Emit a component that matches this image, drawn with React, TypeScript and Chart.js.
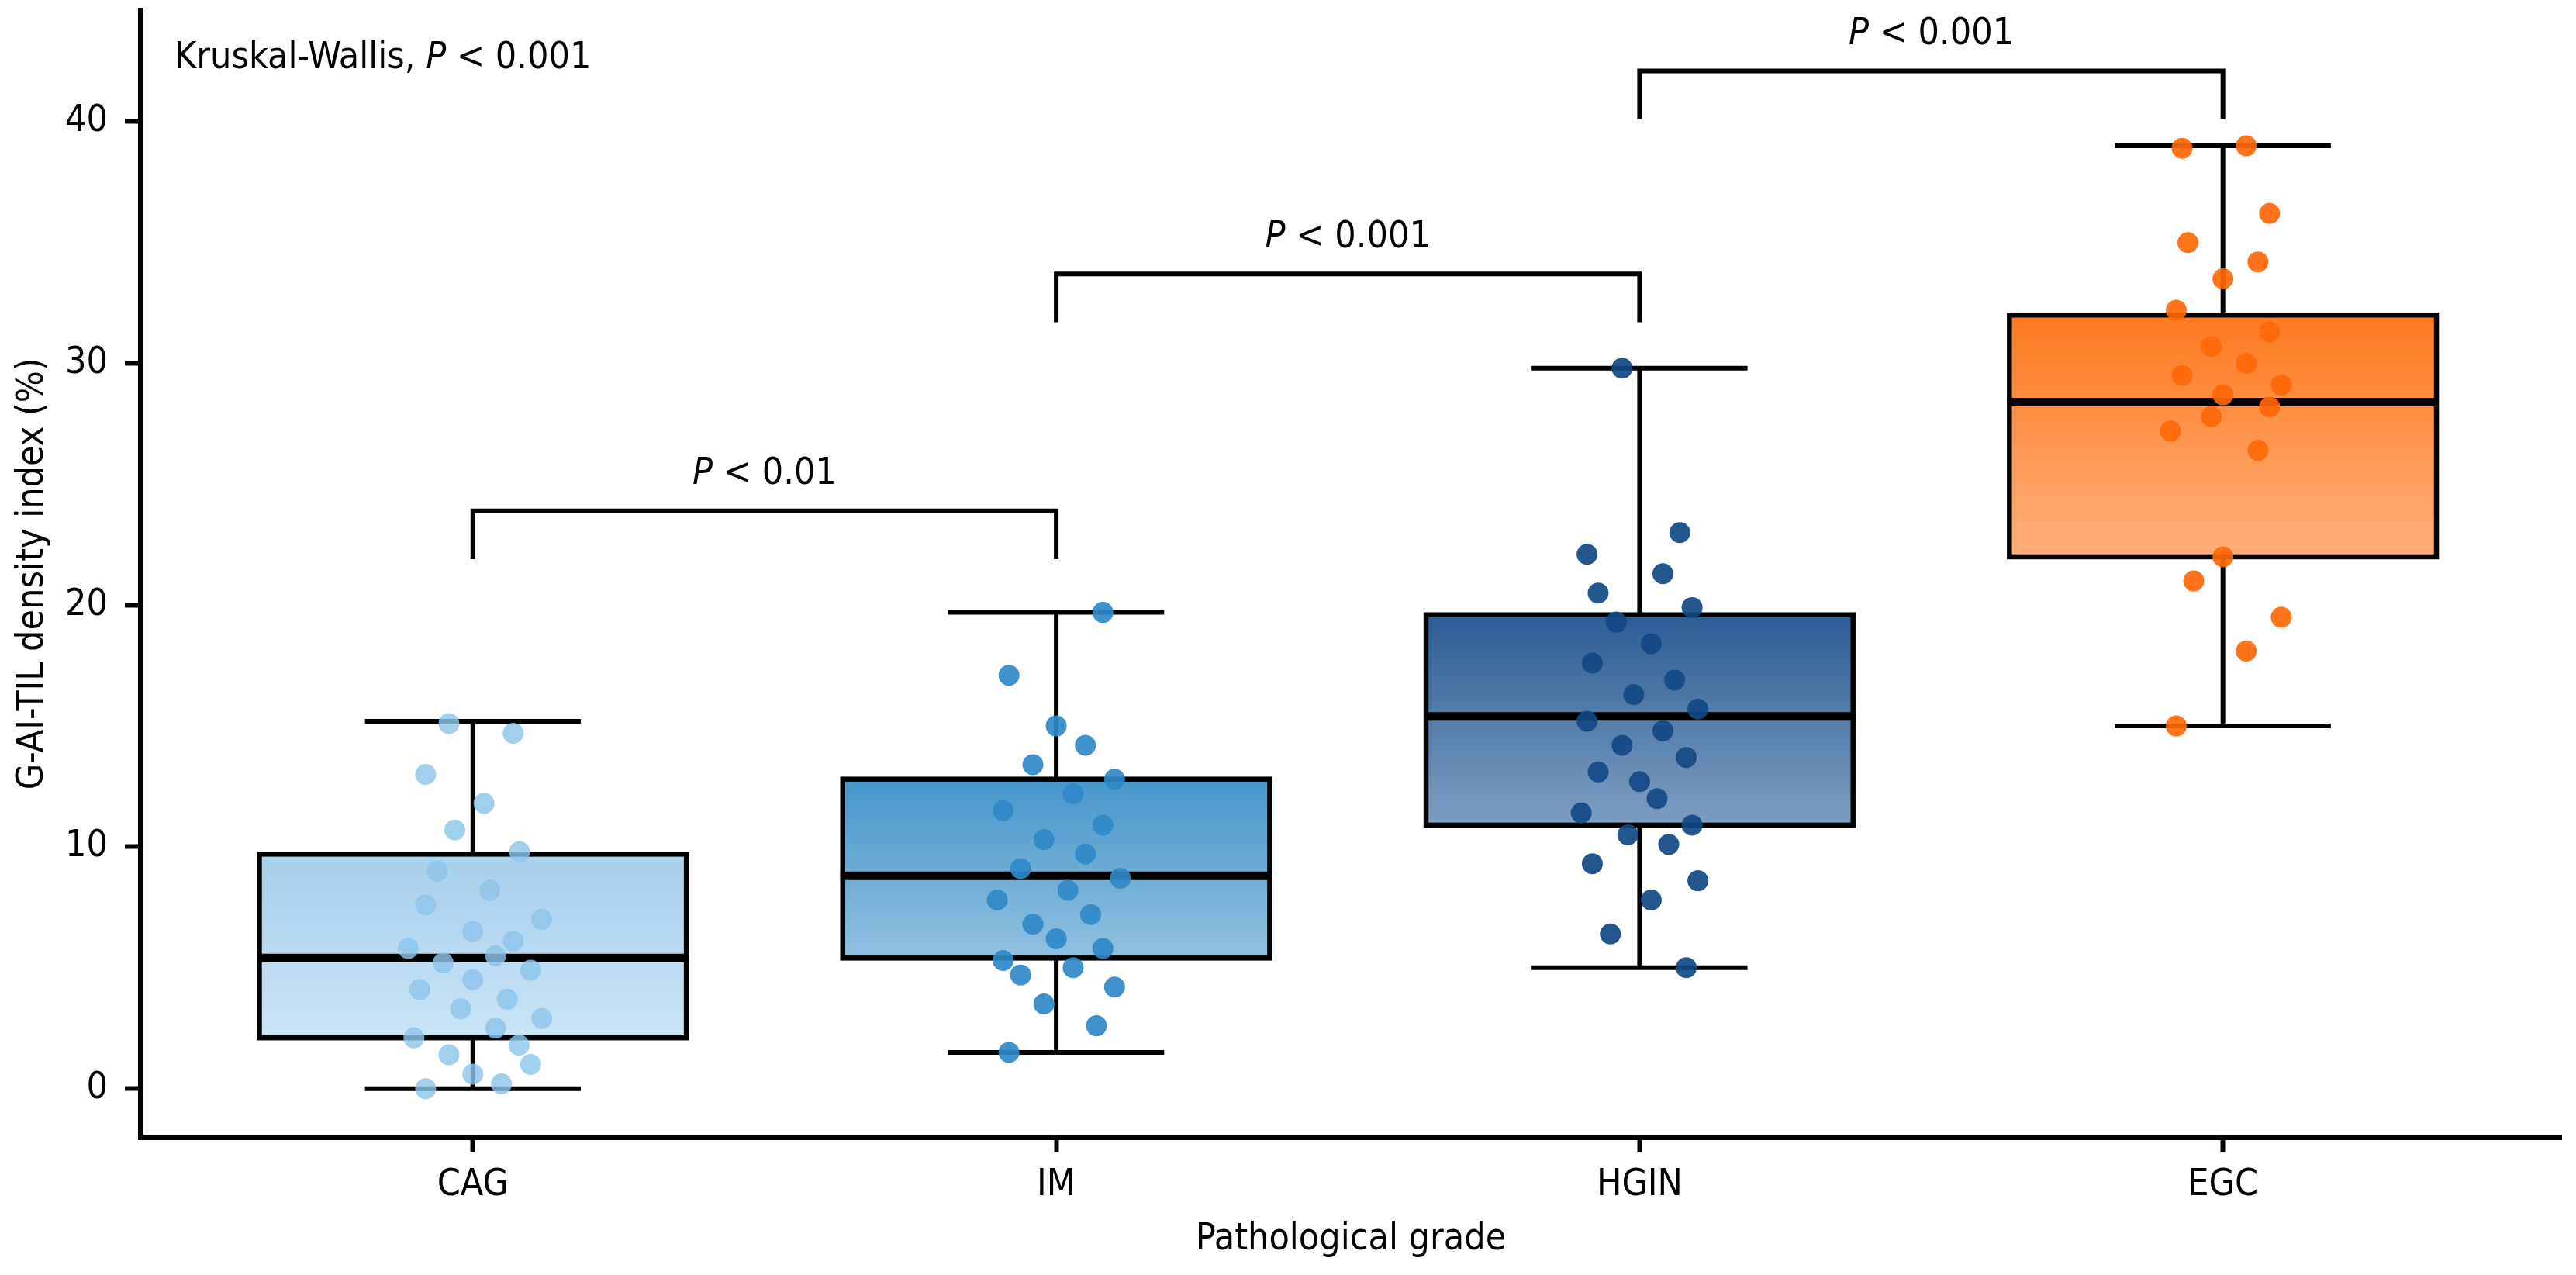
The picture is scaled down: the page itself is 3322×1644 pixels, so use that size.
import { useEffect, useRef } from 'react';
import { Chart, registerables } from 'chart.js';

Chart.register(...registerables);

const FONT = "'DejaVu Sans Condensed', 'DejaVu Sans', sans-serif";

const categories = ['CAG', 'IM', 'HGIN', 'EGC'];
const yTicks = [0, 10, 20, 30, 40];

// box summaries per group
const whiskerLow = [0.0, 1.5, 5.0, 15.0];
const q1 = [2.1, 5.4, 10.9, 22.0];
const medians = [5.4, 8.8, 15.4, 28.4];
const q3 = [9.7, 12.8, 19.6, 32.0];
const whiskerHigh = [15.2, 19.7, 29.8, 39.0];

// individual samples (value) and horizontal jitter (category units)
const cagValues = [15.1, 14.7, 13.0, 11.8, 10.7, 9.8, 9.0, 8.2, 7.6, 7.0, 6.5, 6.1, 5.8, 5.5, 5.2, 4.9, 4.5, 4.1, 3.7, 3.3, 2.9, 2.5, 2.1, 1.8, 1.4, 1.0, 0.6, 0.2, 0.0];
const cagJitter = [-0.041, 0.069, -0.081, 0.019, -0.031, 0.08, -0.061, 0.029, -0.081, 0.118, 0, 0.069, -0.111, 0.039, -0.051, 0.099, 0, -0.091, 0.059, -0.021, 0.118, 0.039, -0.101, 0.079, -0.041, 0.099, 0, 0.049, -0.081];

const imValues = [19.7, 17.1, 15.0, 14.2, 13.4, 12.8, 12.2, 11.5, 10.9, 10.3, 9.7, 9.1, 8.7, 8.2, 7.8, 7.2, 6.8, 6.2, 5.8, 5.3, 5.0, 4.7, 4.2, 3.5, 2.6, 1.5];
const imJitter = [0.08, -0.081, 0, 0.05, -0.04, 0.1, 0.029, -0.091, 0.08, -0.021, 0.05, -0.061, 0.11, 0.02, -0.101, 0.059, -0.04, 0, 0.08, -0.091, 0.029, -0.061, 0.1, -0.021, 0.069, -0.081];

const hginValues = [29.8, 23.0, 22.1, 21.3, 20.5, 19.9, 19.3, 18.4, 17.6, 16.9, 16.3, 15.7, 15.2, 14.8, 14.2, 13.7, 13.1, 12.7, 12.0, 11.4, 10.9, 10.5, 10.1, 9.3, 8.6, 7.8, 6.4, 5.0];
const hginJitter = [-0.03, 0.069, -0.09, 0.04, -0.071, 0.09, -0.04, 0.02, -0.081, 0.06, -0.01, 0.1, -0.09, 0.04, -0.03, 0.08, -0.071, 0, 0.03, -0.1, 0.09, -0.02, 0.05, -0.081, 0.1, 0.02, -0.05, 0.08];

const egcValues = [38.9, 39.0, 36.2, 35.0, 34.2, 33.5, 32.2, 31.3, 30.7, 30.0, 29.5, 29.1, 28.7, 28.2, 27.8, 27.2, 26.4, 22.0, 21.0, 19.5, 18.1, 15.0];
const egcJitter = [-0.07, 0.04, 0.08, -0.06, 0.06, 0, -0.08, 0.08, -0.02, 0.04, -0.07, 0.1, 0, 0.08, -0.02, -0.09, 0.06, 0, -0.05, 0.1, 0.04, -0.08];

// pairwise comparisons
const pairs = [[0, 1], [1, 2], [2, 3]];
const bracketLevels = [23.9, 33.7, 42.1];
const pLabels = ['< 0.01', '< 0.001', '< 0.001'];
const kruskalLabel = ' < 0.001';

const groupValues = [cagValues, imValues, hginValues, egcValues];
const groupJitter = [cagJitter, imJitter, hginJitter, egcJitter];

const boxTop = ['#a6d0ec', '#4696cb', '#2a5d95', '#ff7a20'];
const boxBottom = ['#cae4f5', '#90c1e1', '#7e9ec2', '#ffaf7b'];
const dotColors = ['rgba(140,196,234,0.82)', 'rgba(48,137,200,0.92)', 'rgba(18,73,134,0.92)', 'rgba(255,104,8,0.92)'];

const BOX_HALF = 0.366;
const CAP_HALF = 0.185;

function drawPText(ctx: CanvasRenderingContext2D, prefix: string, rest: string, x: number, y: number, center: boolean) {
  ctx.font = `48px ${FONT}`;
  const wPre = ctx.measureText(prefix).width;
  const wRest = ctx.measureText(rest).width;
  ctx.font = `italic 48px ${FONT}`;
  const wP = ctx.measureText('P').width;
  let start = center ? x - (wPre + wP + wRest) / 2 : x;
  ctx.textAlign = 'left';
  ctx.textBaseline = 'alphabetic';
  ctx.fillStyle = '#000';
  ctx.font = `48px ${FONT}`;
  if (prefix) ctx.fillText(prefix, start, y);
  start += wPre;
  ctx.font = `italic 48px ${FONT}`;
  ctx.fillText('P', start, y);
  start += wP;
  ctx.font = `48px ${FONT}`;
  ctx.fillText(rest, start, y);
}

const boxPlugin = {
  id: 'boxes',
  beforeDatasetsDraw(chart: any) {
    const { ctx } = chart;
    const x = chart.scales.x;
    const y = chart.scales.y;
    ctx.save();
    categories.forEach((_, i) => {
      const xc = x.getPixelForValue(i);
      const half = x.getPixelForValue(i + BOX_HALF) - xc;
      const cap = x.getPixelForValue(i + CAP_HALF) - xc;
      const yLo = y.getPixelForValue(whiskerLow[i]);
      const yQ1 = y.getPixelForValue(q1[i]);
      const yMed = y.getPixelForValue(medians[i]);
      const yQ3 = y.getPixelForValue(q3[i]);
      const yHi = y.getPixelForValue(whiskerHigh[i]);

      ctx.strokeStyle = '#000';
      ctx.lineWidth = 6;
      ctx.beginPath();
      ctx.moveTo(xc, yQ3);
      ctx.lineTo(xc, yHi);
      ctx.moveTo(xc, yQ1);
      ctx.lineTo(xc, yLo);
      ctx.moveTo(xc - cap, yHi);
      ctx.lineTo(xc + cap, yHi);
      ctx.moveTo(xc - cap, yLo);
      ctx.lineTo(xc + cap, yLo);
      ctx.stroke();

      const g = ctx.createLinearGradient(0, yQ3, 0, yQ1);
      g.addColorStop(0, boxTop[i]);
      g.addColorStop(1, boxBottom[i]);
      ctx.fillStyle = g;
      ctx.fillRect(xc - half, yQ3, half * 2, yQ1 - yQ3);
      ctx.lineWidth = 6.5;
      ctx.strokeRect(xc - half, yQ3, half * 2, yQ1 - yQ3);

      ctx.lineWidth = 11;
      ctx.beginPath();
      ctx.moveTo(xc - half - 3, yMed);
      ctx.lineTo(xc + half + 3, yMed);
      ctx.stroke();
    });
    ctx.restore();
  },
  afterDatasetsDraw(chart: any) {
    const { ctx, chartArea } = chart;
    const x = chart.scales.x;
    const y = chart.scales.y;
    ctx.save();
    pairs.forEach(([a, b], i) => {
      const x1 = x.getPixelForValue(a);
      const x2 = x.getPixelForValue(b);
      const yTop = y.getPixelForValue(bracketLevels[i]);
      const yBot = y.getPixelForValue(bracketLevels[i] - 2);
      ctx.strokeStyle = '#000';
      ctx.lineWidth = 6;
      ctx.lineJoin = 'miter';
      ctx.beginPath();
      ctx.moveTo(x1, yBot);
      ctx.lineTo(x1, yTop);
      ctx.lineTo(x2, yTop);
      ctx.lineTo(x2, yBot);
      ctx.stroke();
      drawPText(ctx, '', ' ' + pLabels[i], (x1 + x2) / 2, y.getPixelForValue(bracketLevels[i] + 1.1), true);
    });
    drawPText(ctx, 'Kruskal-Wallis, ', kruskalLabel, chartArea.left + 44, y.getPixelForValue(42.2), false);
    ctx.restore();
  },
};

export default function App() {
  const canvasRef = useRef<HTMLCanvasElement>(null);
  const chartRef = useRef<Chart | null>(null);

  useEffect(() => {
    document.body.style.margin = '0';
    if (!canvasRef.current) return;
    if (chartRef.current) chartRef.current.destroy();

    const datasets = categories.map((name, i) => ({
      label: name,
      data: groupValues[i].map((v, k) => ({ x: i + groupJitter[i][k], y: v })),
      backgroundColor: dotColors[i],
      borderWidth: 0,
      pointRadius: 13.5,
      pointHoverRadius: 13.5,
    }));

    chartRef.current = new Chart(canvasRef.current, {
      type: 'scatter',
      data: { datasets },
      plugins: [boxPlugin],
      options: {
        animation: false,
        responsive: true,
        maintainAspectRatio: false,
        layout: { padding: { top: 0, right: 19, bottom: 0, left: 0 } },
        plugins: {
          legend: { display: false },
          tooltip: { enabled: false },
        },
        scales: {
          x: {
            type: 'linear',
            min: -0.57,
            max: 3.58,
            afterBuildTicks: (s: any) => {
              s.ticks = categories.map((_, i) => ({ value: i }));
            },
            afterFit: (s: any) => {
              s.height = 178;
              s.paddingLeft = 0;
              s.paddingRight = 0;
            },
            ticks: {
              color: '#000',
              padding: 14,
              font: { family: FONT, size: 48 },
              callback: (v: any) => categories[Number(v)] ?? '',
            },
            grid: {
              display: true,
              drawOnChartArea: false,
              drawTicks: true,
              tickLength: 20,
              tickWidth: 6,
              tickColor: '#000',
            },
            border: { display: true, color: '#000', width: 7 },
            title: {
              display: true,
              text: 'Pathological grade',
              color: '#000',
              font: { family: FONT, size: 48 },
              padding: { top: 0, bottom: 17 },
            },
          },
          y: {
            type: 'linear',
            min: -2,
            max: 44.6,
            afterBuildTicks: (s: any) => {
              s.ticks = yTicks.map((v) => ({ value: v }));
            },
            afterFit: (s: any) => {
              s.width = 181;
              s.paddingTop = 0;
              s.paddingBottom = 0;
            },
            ticks: {
              color: '#000',
              padding: 22,
              font: { family: FONT, size: 48 },
            },
            grid: {
              display: true,
              drawOnChartArea: false,
              drawTicks: true,
              tickLength: 20,
              tickWidth: 6,
              tickColor: '#000',
            },
            border: { display: true, color: '#000', width: 7 },
            title: {
              display: true,
              text: 'G-AI-TIL density index (%)',
              color: '#000',
              font: { family: FONT, size: 48 },
              padding: { top: 14, bottom: 0 },
            },
          },
        },
      },
    });

    return () => {
      if (chartRef.current) {
        chartRef.current.destroy();
        chartRef.current = null;
      }
    };
  }, []);

  return (
    <div style={{ width: 3322, height: 1644, position: 'relative', background: '#fff' }}>
      <canvas ref={canvasRef} />
    </div>
  );
}
